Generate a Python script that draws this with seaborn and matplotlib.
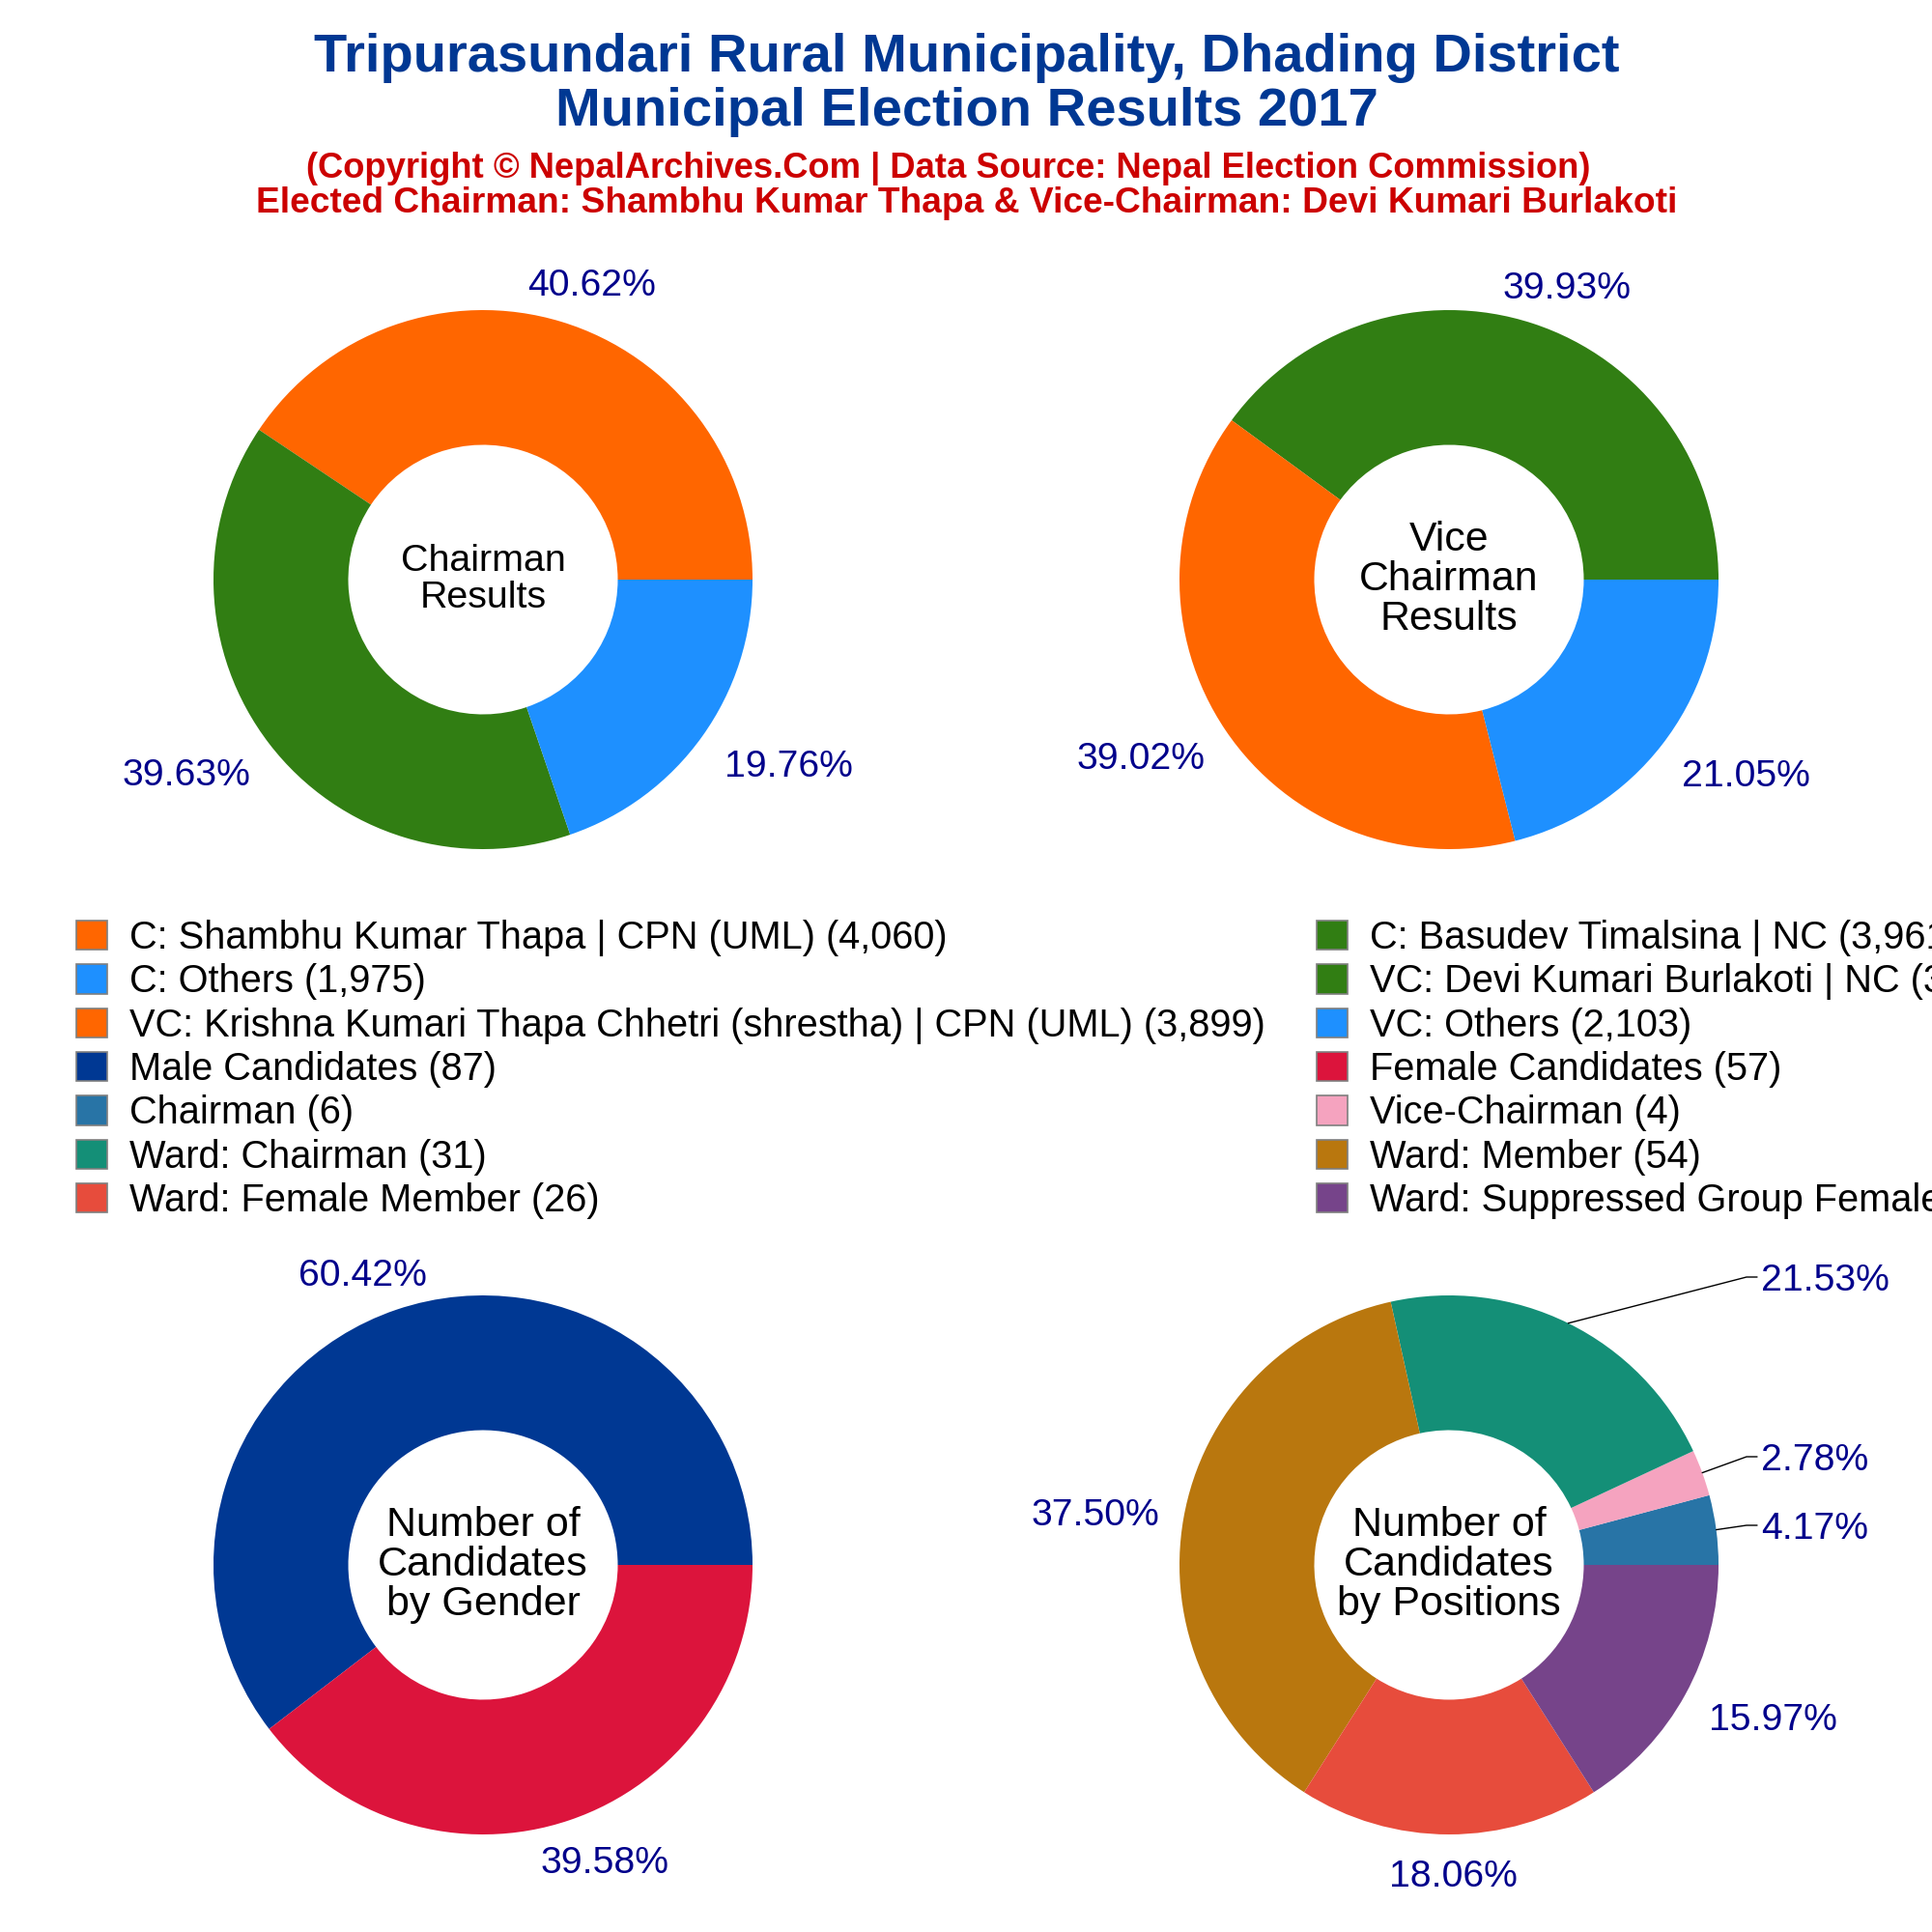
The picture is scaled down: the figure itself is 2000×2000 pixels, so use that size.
import matplotlib

matplotlib.use("Agg")

import matplotlib.pyplot as plt
import numpy as np
import seaborn as sns
from matplotlib.lines import Line2D
from matplotlib.patches import Patch

# Dados
chairman_names = ["C: Shambhu Kumar Thapa | CPN (UML)", "C: Basudev Timalsina | NC", "C: Others"]
chairman_votes = [4060, 3961, 1975]
vice_names = ["VC: Devi Kumari Burlakoti | NC", "VC: Krishna Kumari Thapa Chhetri (shrestha) | CPN (UML)", "VC: Others"]
vice_votes = [3990, 3899, 2103]
gender_names = ["Male Candidates", "Female Candidates"]
gender_counts = [87, 57]
position_names = ["Chairman", "Vice-Chairman", "Ward: Chairman", "Ward: Member", "Ward: Female Member", "Ward: Suppressed Group Female Member"]
position_counts = [6, 4, 31, 54, 26, 23]

ORANGE, GREEN, BLUE = "#FF6600", "#317E13", "#1E90FF"
chairman_colors = [ORANGE, GREEN, BLUE]
vice_colors = [GREEN, ORANGE, BLUE]
gender_colors = ["#003893", "#DC143C"]
position_colors = ["#2874A6", "#F5A3BF", "#148F77", "#B9770E", "#E74C3C", "#76448A"]

TITLE_BLUE = "#003893"
SUB_RED = "#CC0000"
PCT_BLUE = "#00008B"
SIZE = 2000
R_PX = 279
MARGEM = 1.2

sns.set_theme(style="white")
plt.rcParams["font.family"] = ["Liberation Sans", "DejaVu Sans"]

fig = plt.figure(figsize=(10, 10), dpi=200, facecolor="white")


def fx(x):
    return x / SIZE


def fy(y):
    return 1 - y / SIZE


def desenha_pie(cx, cy, valores, cores, centro, centro_size, centro_y, spacing, rotulos_px):
    """Desenha um donut centrado em (cx, cy) em pixels, com rótulos de percentagem."""
    half = R_PX * MARGEM
    ax = fig.add_axes([fx(cx - half), fy(cy + half), 2 * half / SIZE, 2 * half / SIZE])
    wedges, _ = ax.pie(
        valores,
        colors=sns.color_palette(cores),
        startangle=0,
        radius=1,
        wedgeprops=dict(width=0.5, linewidth=0),
    )
    ax.set_xlim(-MARGEM, MARGEM)
    ax.set_ylim(-MARGEM, MARGEM)
    fig.text(fx(cx), fy(centro_y), centro, ha="center", va="center", color="black",
             fontsize=centro_size, linespacing=spacing)

    total = sum(valores)
    for v, (x, y) in zip(valores, rotulos_px):
        fig.text(fx(x), fy(y + 3), f"{v / total * 100:.2f}%", ha="center", va="center",
                 color=PCT_BLUE, fontsize=14.1)
    return wedges


# Títulos
fig.text(fx(1001), fy(74), "Tripurasundari Rural Municipality, Dhading District", ha="center",
         va="baseline", color=TITLE_BLUE, fontsize=20.2, fontweight="bold")
fig.text(fx(1001), fy(130), "Municipal Election Results 2017", ha="center",
         va="baseline", color=TITLE_BLUE, fontsize=20.2, fontweight="bold")
fig.text(fx(982), fy(184), "(Copyright © NepalArchives.Com | Data Source: Nepal Election Commission)",
         ha="center", va="baseline", color=SUB_RED, fontsize=13.1, fontweight="bold")
fig.text(fx(1001), fy(220), "Elected Chairman: Shambhu Kumar Thapa & Vice-Chairman: Devi Kumari Burlakoti",
         ha="center", va="baseline", color=SUB_RED, fontsize=13.37, fontweight="bold")

desenha_pie(500, 600, chairman_votes, chairman_colors, "Chairman\nResults", 14.2, 600, 1.04,
            [(613, 293), (193, 800), (816, 791)])
desenha_pie(1500, 600, vice_votes, vice_colors, "Vice\nChairman\nResults", 15.4, 600, 1.04,
            [(1622, 296), (1181, 783), (1807, 801)])
desenha_pie(500, 1620, gender_counts, gender_colors, "Number of\nCandidates\nby Gender", 15.5, 1620, 1.02,
            [(375, 1318), (626, 1926)])
pos_wedges = desenha_pie(1500, 1620, position_counts, position_colors, "Number of\nCandidates\nby Positions",
                         15.5, 1620, 1.02,
                         [(1879, 1580), (1879, 1509), (1889, 1323), (1134, 1566), (1504, 1940), (1835, 1778)])

# Linhas de ligação das três fatias pequenas
for w, (kx, ky) in zip(pos_wedges[:3], [(1808, 1579), (1808, 1508), (1808, 1322)]):
    ang = np.deg2rad((w.theta1 + w.theta2) / 2)
    sx = 1500 + R_PX * np.cos(ang)
    sy = 1620 - R_PX * np.sin(ang)
    fig.add_artist(Line2D([fx(sx), fx(kx), fx(kx + 11)], [fy(sy), fy(ky), fy(ky)],
                          transform=fig.transFigure, color="black", linewidth=0.5))


# Legendas em duas colunas
def fmt(nome, valor):
    return f"{nome} ({valor:,})"


esq_labels = [
    fmt(chairman_names[0], chairman_votes[0]),
    fmt(chairman_names[2], chairman_votes[2]),
    fmt(vice_names[1], vice_votes[1]),
    fmt(gender_names[0], gender_counts[0]),
    fmt(position_names[0], position_counts[0]),
    fmt(position_names[2], position_counts[2]),
    fmt(position_names[4], position_counts[4]),
]
esq_cores = [ORANGE, BLUE, ORANGE, gender_colors[0], position_colors[0], position_colors[2], position_colors[4]]
dir_labels = [
    fmt(chairman_names[1], chairman_votes[1]),
    fmt(vice_names[0], vice_votes[0]),
    fmt(vice_names[2], vice_votes[2]),
    fmt(gender_names[1], gender_counts[1]),
    fmt(position_names[1], position_counts[1]),
    fmt(position_names[3], position_counts[3]),
    fmt(position_names[5], position_counts[5]),
]
dir_cores = [GREEN, GREEN, BLUE, gender_colors[1], position_colors[1], position_colors[3], position_colors[5]]

for labels, cores, x0 in [(esq_labels, esq_cores, 79), (dir_labels, dir_cores, 1363)]:
    handles = [Patch(facecolor=c, edgecolor="#7F7F7F", linewidth=0.6) for c in cores]
    leg = fig.legend(handles, labels, loc="upper left", bbox_to_anchor=(fx(x0), fy(952)),
                     ncol=1, frameon=False, fontsize=14.3, borderpad=0, borderaxespad=0,
                     handlelength=0.8, handleheight=0.8, handletextpad=0.58, labelspacing=0.185)
    for t in leg.get_texts():
        t.set_color("black")

plt.savefig("out.png", dpi=200)
plt.close()
